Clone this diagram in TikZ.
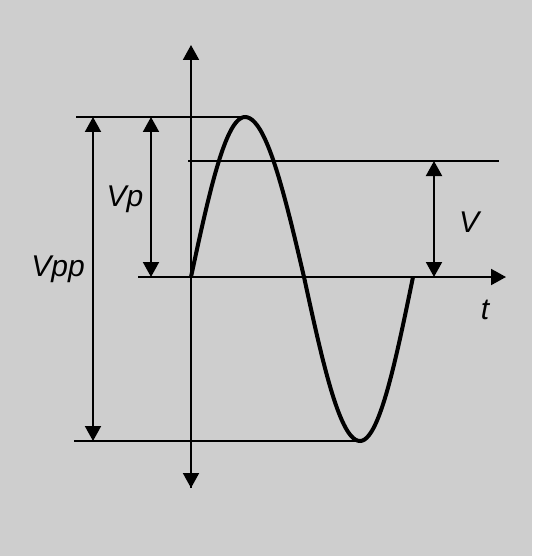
\documentclass[tikz,border=0pt]{standalone}
\usepackage{fontspec}
\setmainfont{Liberation Sans}
\usetikzlibrary{arrows.meta}
\begin{document}
\begin{tikzpicture}[x=1pt,y=-1pt,
  thinline/.style={line width=2pt,draw=black},
  dimarrow/.style={thinline,{Triangle[width=16pt,length=15pt]}-{Triangle[width=16pt,length=15pt]}},
  axisarrow/.style={thinline,-{Triangle[width=16pt,length=15pt]}},
  wave/.style={line width=4pt,line join=round},
  lbl/.style={font=\fontsize{30}{30}\selectfont\itshape,inner sep=0pt,anchor=base}]
\fill[fill={rgb,255:red,206;green,206;blue,206}] (0,0) rectangle (532,556);
\useasboundingbox (0,0) rectangle (532,556);
% coordinates
\coordinate (ytop) at (191,45);
\coordinate (ybot) at (191,488);
\coordinate (orig) at (191,277);
\coordinate (xl) at (138,277);
\coordinate (xr) at (506,277);
\coordinate (topl) at (76,117);
\coordinate (topr) at (245,117);
\coordinate (vl) at (188,161);
\coordinate (vr) at (499,161);
\coordinate (botl) at (74,441);
\coordinate (botr) at (360,441);
\coordinate (vppT) at (93,117);
\coordinate (vppB) at (93,441);
\coordinate (vpT) at (151,117);
\coordinate (vpB) at (151,277);
\coordinate (vT) at (434,161);
\coordinate (vB) at (434,277);
% axes
\draw[axisarrow] (ybot) -- (ytop);
\draw[axisarrow] (orig) -- (ybot);
\draw[axisarrow] (xl) -- (xr);
% level lines
\draw[thinline] (topl) -- (topr);
\draw[thinline] (vl) -- (vr);
\draw[thinline] (botl) -- (botr);
% dimension arrows
\draw[dimarrow] (vppT) -- (vppB);
\draw[dimarrow] (vpT) -- (vpB);
\draw[dimarrow] (vT) -- (vB);
% sine (four quarters)
\draw[wave] plot[variable=\t,domain=0:90,samples=25,smooth] ({191+0.6*\t},{277-160*sin(\t)})
  -- plot[variable=\t,domain=90:180,samples=25,smooth] ({245+0.65556*(\t-90)},{277-160*sin(\t)})
  -- plot[variable=\t,domain=180:270,samples=25,smooth] ({304+0.62222*(\t-180)},{277-164*sin(\t)})
  -- plot[variable=\t,domain=270:360,samples=25,smooth] ({360+0.58889*(\t-270)},{277-164*sin(\t)});
% labels
\node[lbl] (vp) at (125,206) {Vp};
\node[lbl] (vpp) at (58,276) {Vpp};
\node[lbl] (v) at (469,232) {V};
\node[lbl] (t) at (485,319) {t};
\end{tikzpicture}
\end{document}
